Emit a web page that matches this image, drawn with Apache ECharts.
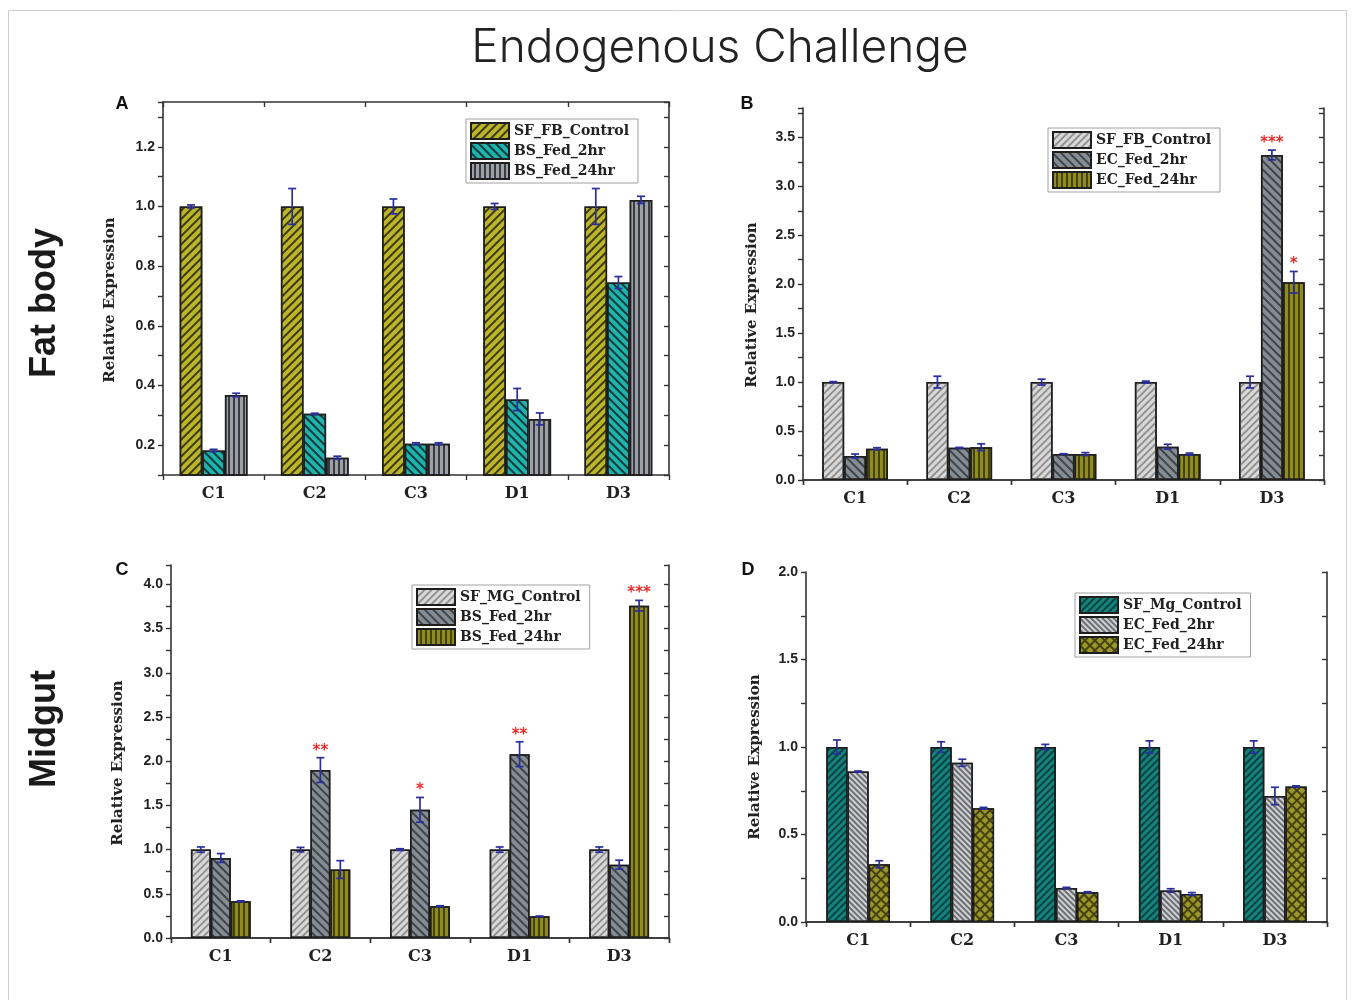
<!DOCTYPE html>
<html>
<head>
<meta charset="utf-8">
<title>Endogenous Challenge</title>
<script src="https://cdn.jsdelivr.net/npm/echarts@6/dist/echarts.min.js"></script>
<style>
  html, body { margin: 0; padding: 0; background: #fff; }
  #chart { width: 1356px; height: 1000px; }
</style>
</head>
<body>
<div id="chart"></div>
<script>
// ---------- data ----------
const categories = ['C1', 'C2', 'C3', 'D1', 'D3'];

// A: fat body, BS feeding
const aControl    = [1.0, 1.0, 1.0, 1.0, 1.0];
const aControlErr = [0.005, 0.06, 0.025, 0.01, 0.06];
const aBs2        = [0.182, 0.305, 0.205, 0.353, 0.745];
const aBs2Err     = [0.004, 0.002, 0.003, 0.037, 0.02];
const aBs24       = [0.368, 0.158, 0.205, 0.288, 1.022];
const aBs24Err    = [0.006, 0.005, 0.003, 0.02, 0.012];

// B: fat body, EC feeding
const bControl    = [1.0, 1.0, 1.0, 1.0, 1.0];
const bControlErr = [0.005, 0.06, 0.03, 0.01, 0.06];
const bEc2        = [0.245, 0.33, 0.265, 0.34, 3.32];
const bEc2Err     = [0.02, 0.003, 0.003, 0.025, 0.05];
const bEc24       = [0.32, 0.335, 0.265, 0.265, 2.02];
const bEc24Err    = [0.01, 0.035, 0.015, 0.01, 0.11];
const bEc2Stars   = ['', '', '', '', '***'];
const bEc24Stars  = ['', '', '', '', '*'];

// C: midgut, BS feeding
const cControl    = [1.0, 1.0, 1.0, 1.0, 1.0];
const cControlErr = [0.03, 0.025, 0.01, 0.03, 0.03];
const cBs2        = [0.905, 1.90, 1.45, 2.08, 0.83];
const cBs2Err     = [0.05, 0.14, 0.14, 0.14, 0.05];
const cBs24       = [0.415, 0.775, 0.36, 0.245, 3.76];
const cBs24Err    = [0.005, 0.1, 0.005, 0.003, 0.06];
const cBs2Stars   = ['', '**', '*', '**', ''];
const cBs24Stars  = ['', '', '', '', '***'];

// D: midgut, EC feeding
const dControl    = [1.0, 1.0, 1.0, 1.0, 1.0];
const dControlErr = [0.04, 0.03, 0.015, 0.035, 0.035];
const dEc2        = [0.86, 0.91, 0.195, 0.18, 0.72];
const dEc2Err     = [0.003, 0.02, 0.003, 0.01, 0.05];
const dEc24       = [0.33, 0.65, 0.17, 0.16, 0.775];
const dEc24Err    = [0.02, 0.005, 0.003, 0.008, 0.003];

// ---------- fill patterns ----------
const FWD = -Math.PI / 4;   // "///"
const BACK = Math.PI / 4;   // "\\\"
const VERT = Math.PI / 2;   // "|||"
function stripes(color, angle, line, gap) {
  return { symbol: 'rect', symbolSize: 1, color: color, dashArrayX: [1, 0], dashArrayY: [line, gap], rotation: angle };
}
const fills = {
  oliveFwd:  { color: '#bcb42a', decal: stripes('rgba(45,45,15,0.9)', FWD, 1.7, 3.5) },
  tealBack:  { color: '#20b2ad', decal: stripes('rgba(15,45,45,0.9)', BACK, 1.7, 3.5) },
  grayVert:  { color: '#9da1a7', decal: stripes('rgba(45,48,52,0.9)', VERT, 1.4, 2.4) },
  lightFwd:  { color: '#d9d9d9', decal: stripes('rgba(140,140,140,0.9)', FWD, 1.4, 3.0) },
  grayBack:  { color: '#858d94', decal: stripes('rgba(50,55,60,0.85)', BACK, 1.4, 3.4) },
  oliveVert: { color: '#8f8b1f', decal: stripes('rgba(60,58,12,0.9)', VERT, 1.2, 2.6) },
  tealFwd:   { color: '#14827d', decal: stripes('rgba(8,60,58,0.9)', FWD, 1.2, 2.4) },
  lightBack: { color: '#cfd0d4', decal: stripes('rgba(100,100,106,0.9)', BACK, 1.3, 2.0) },
  oliveHatch:{ color: '#45420f', decal: { symbol: 'rect', symbolSize: 1, color: '#9b962a', dashArrayX: [4.6, 1.2], dashArrayY: [4.6, 1.2], rotation: Math.PI / 4 } }
};

// ---------- panel layout ----------
const panels = [
  { key: 'A', grid: { left: 163, top: 102, width: 506, height: 373 },
    y: { min: 0.1, max: 1.35, step: 0.1, major: 0.2 }, gap: 0.33,
    legend: { left: 466, top: 119 }, letter: [122, 104], yName: [110, 300],
    series: [
      { label: 'SF_FB_Control', values: aControl, errors: aControlErr, fill: fills.oliveFwd },
      { label: 'BS_Fed_2hr',    values: aBs2,     errors: aBs2Err,     fill: fills.tealBack },
      { label: 'BS_Fed_24hr',   values: aBs24,    errors: aBs24Err,    fill: fills.grayVert }
    ] },
  { key: 'B', grid: { left: 803, top: 108, width: 521, height: 372 },
    y: { min: 0, max: 3.8, step: 0.25, major: 0.5 }, gap: 0.37,
    legend: { left: 1048, top: 128 }, letter: [747, 104], yName: [752, 305],
    series: [
      { label: 'SF_FB_Control', values: bControl, errors: bControlErr, fill: fills.lightFwd },
      { label: 'EC_Fed_2hr',    values: bEc2,     errors: bEc2Err,     fill: fills.grayBack, stars: bEc2Stars },
      { label: 'EC_Fed_24hr',   values: bEc24,    errors: bEc24Err,    fill: fills.oliveVert, stars: bEc24Stars }
    ] },
  { key: 'C', grid: { left: 171, top: 565, width: 498, height: 373 },
    y: { min: 0, max: 4.22, step: 0.25, major: 0.5 }, gap: 0.40,
    legend: { left: 412, top: 585 }, letter: [122, 570], yName: [118, 763],
    series: [
      { label: 'SF_MG_Control', values: cControl, errors: cControlErr, fill: fills.lightFwd },
      { label: 'BS_Fed_2hr',    values: cBs2,     errors: cBs2Err,     fill: fills.grayBack, stars: cBs2Stars },
      { label: 'BS_Fed_24hr',   values: cBs24,    errors: cBs24Err,    fill: fills.oliveVert, stars: cBs24Stars }
    ] },
  { key: 'D', grid: { left: 806, top: 572, width: 521, height: 350 },
    y: { min: 0, max: 2.0, step: 0.25, major: 0.5 }, gap: 0.39,
    legend: { left: 1075, top: 593 }, letter: [748, 570], yName: [755, 757],
    series: [
      { label: 'SF_Mg_Control', values: dControl, errors: dControlErr, fill: fills.tealFwd },
      { label: 'EC_Fed_2hr',    values: dEc2,     errors: dEc2Err,     fill: fills.lightBack },
      { label: 'EC_Fed_24hr',   values: dEc24,    errors: dEc24Err,    fill: fills.oliveHatch }
    ] }
];

// ---------- helpers ----------
const AXIS_COLOR = '#333';
const SERIF = 'DejaVu Serif';
const SANS = 'Liberation Sans';

function isMajor(v, major) {
  const r = v / major;
  return Math.abs(r - Math.round(r)) < 1e-6;
}

function errorBarRenderer(k, n, gap, stars) {
  return function (params, api) {
    const ci = api.value(0), v = api.value(1), e = api.value(2);
    const band = api.size([1, 0])[0];
    const barW = band * (1 - gap) / n;
    const x = api.coord([ci, v])[0] + (k - (n - 1) / 2) * barW;
    const yHi = api.coord([ci, v + e])[1];
    const yLo = api.coord([ci, v - e])[1];
    const cap = 4;
    const style = { stroke: '#2b2f9c', lineWidth: 1.7 };
    const children = [
      { type: 'line', shape: { x1: x, y1: yHi, x2: x, y2: yLo }, style: style },
      { type: 'line', shape: { x1: x - cap, y1: yHi, x2: x + cap, y2: yHi }, style: style },
      { type: 'line', shape: { x1: x - cap, y1: yLo, x2: x + cap, y2: yLo }, style: style }
    ];
    const s = stars && stars[params.dataIndex];
    if (s) {
      children.push({ type: 'text', style: {
        text: s, x: x, y: yHi - 7, align: 'center', verticalAlign: 'middle',
        fill: '#ec2a2a', font: 'bold 15px "DejaVu Sans"' } });
    }
    return { type: 'group', children: children };
  };
}

const option = {
  backgroundColor: '#fff',
  animation: false,
  grid: [], xAxis: [], yAxis: [], legend: [], series: [],
  graphic: [
    { type: 'rect', shape: { x: 8.5, y: 10.5, width: 1338, height: 990 },
      style: { fill: 'none', stroke: '#cfcfcf', lineWidth: 1 }, silent: true },
    { type: 'text', x: 720, y: 48, style: { text: 'Endogenous Challenge', align: 'center', verticalAlign: 'middle',
      font: '300 46px Inter', fill: '#222' } },
    { type: 'text', x: 45, y: 303, rotation: Math.PI / 2, style: { text: 'Fat body', align: 'center', verticalAlign: 'middle',
      font: 'bold 36px "Liberation Sans"', fill: '#1a1a1a' } },
    { type: 'text', x: 45, y: 729, rotation: Math.PI / 2, style: { text: 'Midgut', align: 'center', verticalAlign: 'middle',
      font: 'bold 36px "Liberation Sans"', fill: '#1a1a1a' } }
  ]
};

panels.forEach(function (p, gi) {
  option.grid.push(Object.assign({ containLabel: false }, p.grid));

  const catBase = {
    gridIndex: gi, type: 'category', data: categories,
    axisLine: { show: true, lineStyle: { color: AXIS_COLOR, width: 1.6 } },
    splitLine: { show: false }
  };
  option.xAxis.push(Object.assign({}, catBase, {
    position: 'bottom',
    axisTick: { show: true, inside: false, length: 5, lineStyle: { color: AXIS_COLOR, width: 1.4 } },
    axisLabel: { fontFamily: SERIF, fontWeight: 'bold', fontSize: 16, color: '#222', margin: 11 }
  }));
  option.xAxis.push(Object.assign({}, catBase, {
    position: 'top',
    axisTick: { show: true, inside: true, length: 5, lineStyle: { color: AXIS_COLOR, width: 1.4 } },
    axisLabel: { show: false }
  }));

  const valBase = {
    gridIndex: gi, type: 'value', min: p.y.min, max: p.y.max, interval: p.y.step,
    axisLine: { show: true, lineStyle: { color: AXIS_COLOR, width: 1.6 } },
    splitLine: { show: false }
  };
  option.yAxis.push(Object.assign({}, valBase, {
    position: 'left',
    axisTick: { show: true, inside: false, length: 5, lineStyle: { color: AXIS_COLOR, width: 1.4 } },
    axisLabel: { fontFamily: SANS, fontWeight: 'bold', fontSize: 14, color: '#222', margin: 8,
      formatter: function (v) { return isMajor(v, p.y.major) && v > p.y.min - 1e-9 ? v.toFixed(1) : ''; } }
  }));
  option.yAxis.push(Object.assign({}, valBase, {
    position: 'right',
    axisTick: { show: true, inside: true, length: 5, lineStyle: { color: AXIS_COLOR, width: 1.4 } },
    axisLabel: { show: false }
  }));

  const xi = gi * 2, yi = gi * 2;
  const names = p.series.map(function (s) { return p.key + '|' + s.label; });

  p.series.forEach(function (s, k) {
    option.series.push({
      name: names[k], type: 'bar', xAxisIndex: xi, yAxisIndex: yi,
      barGap: '0%', barCategoryGap: Math.round(p.gap * 100) + '%',
      itemStyle: { color: s.fill.color, decal: s.fill.decal, borderColor: '#1e1e1e', borderWidth: 1.5 },
      data: s.values
    });
  });
  p.series.forEach(function (s, k) {
    option.series.push({
      name: p.key + '-err-' + k, type: 'custom', xAxisIndex: xi, yAxisIndex: yi, z: 5,
      renderItem: errorBarRenderer(k, p.series.length, p.gap, s.stars),
      encode: { x: 0, y: 1 },
      data: s.values.map(function (v, i) { return [i, v, s.errors[i]]; })
    });
  });

  option.legend.push({
    data: names, formatter: function (n) { return n.split('|')[1]; },
    orient: 'vertical', left: p.legend.left, top: p.legend.top,
    icon: 'rect', itemWidth: 38, itemHeight: 16, itemGap: 2,
    borderColor: '#a0a0a0', borderWidth: 1, padding: [3, 9, 3, 4], backgroundColor: '#fff',
    selectedMode: false,
    textStyle: { fontFamily: SERIF, fontWeight: 'bold', fontSize: 14, lineHeight: 16, color: '#222' }
  });

  option.graphic.push({ type: 'text', x: p.letter[0], y: p.letter[1], style: {
    text: p.key, align: 'center', verticalAlign: 'middle', font: 'bold 18px "Liberation Sans"', fill: '#111' } });
  option.graphic.push({ type: 'text', x: p.yName[0], y: p.yName[1], rotation: Math.PI / 2, style: {
    text: 'Relative Expression', align: 'center', verticalAlign: 'middle',
    font: 'bold 15px "DejaVu Serif"', fill: '#222' } });
});

const chart = echarts.init(document.getElementById('chart'), null, { renderer: 'canvas' });
chart.setOption(option);
</script>
</body>
</html>
